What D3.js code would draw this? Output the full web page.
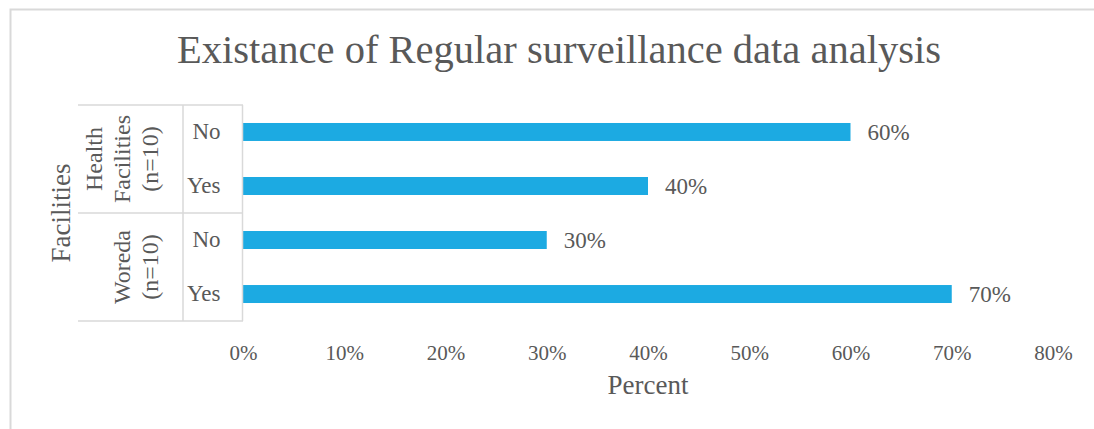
<!DOCTYPE html>
<html>
<head>
<meta charset="utf-8">
<script src="https://cdn.jsdelivr.net/npm/d3@7"></script>
<style>
  html, body { margin: 0; padding: 0; background: #fff; }
  svg { display: block; }
  text { font-family: "Liberation Serif", "DejaVu Serif", serif; fill: #595959; }
</style>
</head>
<body>
<svg id="chart" width="1094" height="429"></svg>
<script>
// Chart data
const groups = ["Health Facilities (n=10)", "Woreda (n=10)"];
const groupLines = [["Health", "Facilities", "(n=10)"], ["Woreda", "(n=10)"]];
const answers = ["No", "Yes"];
const values = [[60, 40], [30, 70]];   // percent, per group in answer order
const xTicks = [0, 10, 20, 30, 40, 50, 60, 70, 80];

const rows = [];
groups.forEach((g, gi) => answers.forEach((a, ai) => rows.push({ key: g + "|" + a, group: gi, answer: a, value: values[gi][ai] })));

const svg = d3.select("#chart");
const W = 1094, H = 429;
const gridColor = "#d9d9d9";
const barColor = "#1CAAE2";
const fontStack = '"Liberation Serif", "DejaVu Serif", serif';

// outer chart frame
svg.append("path").attr("d", `M10.5,${H} V9.5 H${W}`).attr("fill", "none").attr("stroke", gridColor).attr("stroke-width", 2);

const plot = { left: 243, right: 1053, top: 105, bottom: 321 };
const x = d3.scaleLinear().domain([0, 80]).range([plot.left, plot.right]);
const y = d3.scaleBand().domain(rows.map(r => r.key)).range([plot.top, plot.bottom]).paddingInner(0.667).paddingOuter(0.333);

// title
svg.append("text").attr("x", 559).attr("y", 63).attr("text-anchor", "middle")
  .attr("font-size", 41).attr("textLength", 764).attr("lengthAdjust", "spacingAndGlyphs")
  .text("Existance of Regular surveillance data analysis");

// bars
svg.append("g").selectAll("rect").data(rows).join("rect")
  .attr("x", x(0)).attr("y", d => y(d.key))
  .attr("width", d => x(d.value) - x(0)).attr("height", y.bandwidth())
  .attr("fill", barColor);

// value labels
svg.append("g").selectAll("text").data(rows).join("text")
  .attr("x", d => x(d.value) + 17).attr("y", d => y(d.key) + y.bandwidth() / 2)
  .attr("dy", "0.35em").attr("font-size", 23)
  .text(d => d.value + "%");

// x axis (labels only)
const xAxis = svg.append("g").attr("transform", `translate(0,${plot.bottom})`)
  .call(d3.axisBottom(x).tickValues(xTicks).tickFormat(d => d + "%").tickSize(0).tickPadding(24));
xAxis.select(".domain").remove();
xAxis.selectAll("text").attr("font-size", 21).attr("fill", "#595959").style("font-family", fontStack);

svg.append("text").attr("x", x(40)).attr("y", 394).attr("text-anchor", "middle")
  .attr("font-size", 27).text("Percent");

// category axis: inner labels and multi-level grid
const yAxis = svg.append("g").attr("transform", `translate(${plot.left - 0.5},0)`)
  .call(d3.axisLeft(y).tickFormat(k => k.split("|")[1]).tickSize(0).tickPadding(22));
yAxis.select(".domain").attr("stroke", gridColor).attr("stroke-width", 1.5)
  .attr("d", `M0,${plot.top}V${plot.bottom}`);
yAxis.selectAll("text").attr("font-size", 23).attr("fill", "#595959").style("font-family", fontStack);

const innerLeft = 183, outerLeft = 78;
const groupBounds = groups.map((g, gi) => ({
  top: plot.top + gi * (plot.bottom - plot.top) / groups.length,
  bottom: plot.top + (gi + 1) * (plot.bottom - plot.top) / groups.length
}));
const grid = svg.append("g").attr("stroke", gridColor).attr("stroke-width", 1.5).attr("fill", "none");
[plot.top, groupBounds[0].bottom, plot.bottom].forEach(v =>
  grid.append("line").attr("x1", outerLeft).attr("x2", plot.left).attr("y1", v).attr("y2", v));
grid.append("line").attr("x1", innerLeft).attr("x2", innerLeft).attr("y1", plot.top).attr("y2", plot.bottom);

// rotated group labels, lines stacked toward the inner labels
groupLines.forEach((lines, gi) => {
  const cy = (groupBounds[gi].top + groupBounds[gi].bottom) / 2;
  const lh = 28;
  lines.forEach((ln, li) => {
    const cx = 158 - (lines.length - 1 - li) * lh;
    svg.append("text").attr("transform", `translate(${cx},${cy}) rotate(-90)`)
      .attr("text-anchor", "middle").attr("font-size", 24).text(ln);
  });
});

// axis title
svg.append("text").attr("transform", `translate(70,213) rotate(-90)`)
  .attr("text-anchor", "middle").attr("font-size", 27).text("Facilities");
</script>
</body>
</html>
